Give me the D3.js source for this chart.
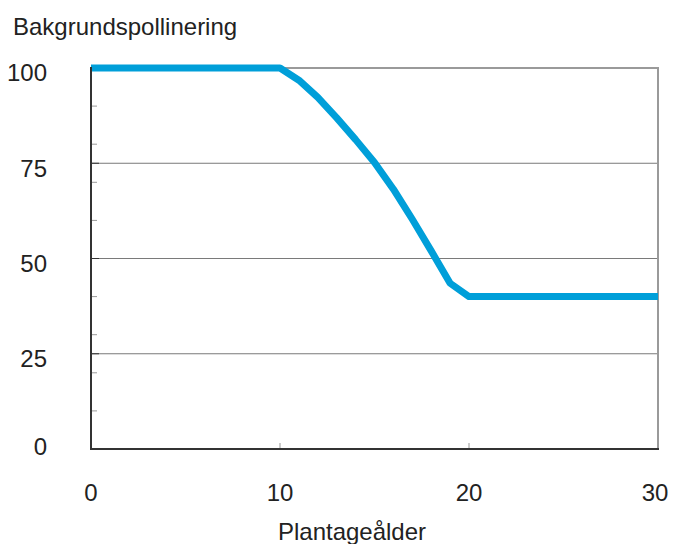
<!DOCTYPE html>
<html><head><meta charset="utf-8">
<script src="https://cdn.jsdelivr.net/npm/d3@7"></script>
<style>body{margin:0;background:#fff}text{font-family:"Liberation Sans",Arial,sans-serif;fill:#222}</style>
</head><body>
<svg id="c" width="673" height="544"></svg>
<script>
const years = [0, 10, 11, 12, 13, 14, 15, 16, 17, 18, 19, 20, 30];
const pollination = [100, 100, 96.8, 92.3, 86.9, 81.2, 75.2, 68.2, 60.3, 52, 43.5, 40, 40];
const yTicks = [0, 25, 50, 75, 100];
const yMinor = [10, 20, 30, 40, 60, 70, 80, 90];
const xTicks = [0, 10, 20, 30];
const yTitle = "Bakgrundspollinering";
const xTitle = "Plantageålder";

const svg = d3.select("#c");
const L = 91, R = 658, T = 68, B = 449;
const x = d3.scaleLinear().domain([0, 30]).range([L, R]);
const y = d3.scaleLinear().domain([0, 100]).range([B, T]);

// gridlines
svg.append("g").selectAll("line").data(yTicks.filter(d => d > 0 && d < 100)).join("line")
  .attr("x1", L).attr("x2", R).attr("y1", d => y(d)).attr("y2", d => y(d))
  .attr("stroke", "#7a7a7a").attr("stroke-width", 1);
// major tick darker stub
svg.append("g").selectAll("line").data(yTicks.filter(d => d > 0 && d < 100)).join("line")
  .attr("x1", L).attr("x2", L + 8).attr("y1", d => y(d)).attr("y2", d => y(d))
  .attr("stroke", "#333").attr("stroke-width", 1);
// minor ticks
svg.append("g").selectAll("line").data(yMinor).join("line")
  .attr("x1", L).attr("x2", L + 6).attr("y1", d => y(d)).attr("y2", d => y(d))
  .attr("stroke", "#999").attr("stroke-width", 1);
// x ticks inside
svg.append("g").selectAll("line").data(xTicks.filter(d => d > 0 && d < 30)).join("line")
  .attr("x1", d => x(d)).attr("x2", d => x(d)).attr("y1", B).attr("y2", B - 6)
  .attr("stroke", "#999").attr("stroke-width", 1);

// top/right border
svg.append("path").attr("d", `M${L},${T}H${R}V${B}`).attr("fill", "none")
  .attr("stroke", "#9a9a9a").attr("stroke-width", 2);

// data line
const line = d3.line().x((d, i) => x(years[i])).y(d => y(d)).curve(d3.curveLinear);
svg.append("path").datum(pollination).attr("d", line).attr("fill", "none")
  .attr("stroke", "#009fd9").attr("stroke-width", 7).attr("stroke-linejoin", "round");

// left/bottom axis lines
svg.append("path").attr("d", `M${L},${T - 1}V${B}H${R + 1}`).attr("fill", "none")
  .attr("stroke", "#333").attr("stroke-width", 2);

// labels
const fs = 24;
svg.append("g").selectAll("text").data(yTicks).join("text")
  .attr("x", 47).attr("y", d => y(d) + (d === 0 ? -2 : 5)).attr("dy", "0.35em")
  .attr("text-anchor", "end").attr("font-size", fs).text(d => d);
svg.append("g").selectAll("text").data(xTicks).join("text")
  .attr("x", d => x(d) - (d === 30 ? 3 : 0)).attr("y", 493).attr("dy", "0.35em")
  .attr("text-anchor", "middle").attr("font-size", fs).text(d => d);
svg.append("text").attr("x", 13).attr("y", 27).attr("dy", "0.35em")
  .attr("font-size", fs).text(yTitle);
svg.append("text").attr("x", 352).attr("y", 532).attr("dy", "0.35em")
  .attr("text-anchor", "middle").attr("font-size", fs).text(xTitle);
</script>
</body></html>
